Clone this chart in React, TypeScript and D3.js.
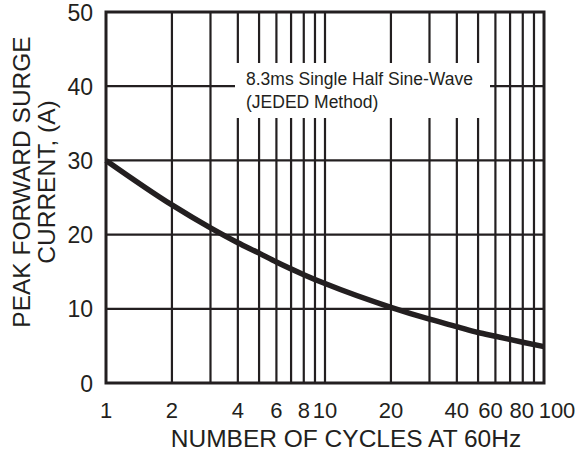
import React from "react";
import * as d3 from "d3";

const cycles = [1, 2, 3, 4, 5, 6, 8, 10, 20, 30, 40, 50, 60, 80, 100];
const current = [30, 24, 20.9, 18.9, 17.5, 16.3, 14.6, 13.4, 10.2, 8.6, 7.6, 6.8, 6.3, 5.5, 4.9];
const xGrid = [2, 3, 4, 5, 6, 7, 8, 9, 10, 20, 30, 40, 50, 60, 70, 80, 90];
const yGrid = [10, 20, 30, 40];
const xTicks = [1, 2, 4, 6, 8, 10, 20, 40, 60, 80, 100];
const yTicks = [0, 10, 20, 30, 40, 50];
const noteLines = ["8.3ms Single Half Sine-Wave", "(JEDED Method)"];
const yTitle = ["PEAK FORWARD SURGE", "CURRENT, (A)"];
const xTitle = "NUMBER OF CYCLES AT 60Hz";

const W = 579, H = 452;
const L = 106, R = 544, T = 12, B = 383;
const ink = "#231f20";
const font = "'Liberation Sans', Arial, sans-serif";

// crowded labels at the right end are nudged apart, as in the reference
const labelShift = (v: number) => (v === 60 ? -5 : v === 80 ? -1 : v === 100 ? 13 : 0);

export default function App() {
  const x = d3.scaleLog().domain([1, 100]).range([L, R]);
  const y = d3.scaleLinear().domain([0, 50]).range([B, T]);
  const pts = cycles.map((c, i) => [c, current[i]] as [number, number]);
  const line = d3
    .line<[number, number]>()
    .x((d) => x(d[0]))
    .y((d) => y(d[1]))
    .curve(d3.curveMonotoneX);

  return (
    <svg
      width={W}
      height={H}
      style={{ position: "absolute", left: 0, top: 0, background: "#fff" }}
    >
      <rect x={0} y={0} width={W} height={H} fill="#fff" />
      {xGrid.map((v) => (
        <line key={"gx" + v} x1={x(v)} x2={x(v)} y1={T} y2={B} stroke={ink} strokeWidth={2.2} />
      ))}
      {yGrid.map((v) => (
        <line key={"gy" + v} x1={L} x2={R} y1={y(v)} y2={y(v)} stroke={ink} strokeWidth={2.2} />
      ))}
      <rect x={235} y={63} width={255} height={55} fill="#fff" />
      {noteLines.map((t, i) => (
        <text key={t} x={246} y={85 + i * 23} fontFamily={font} fontSize={17.5} fill={ink}>
          {t}
        </text>
      ))}
      <path d={line(pts) || ""} fill="none" stroke={ink} strokeWidth={5.5} strokeLinecap="butt" />
      <rect x={L} y={T} width={R - L} height={B - T} fill="none" stroke={ink} strokeWidth={3} />
      {yTicks.map((v) => (
        <text
          key={"yt" + v}
          x={93}
          y={y(v) + 8.5}
          textAnchor="end"
          fontFamily={font}
          fontSize={23}
          fill={ink}
        >
          {v}
        </text>
      ))}
      {xTicks.map((v) => (
        <text
          key={"xt" + v}
          x={x(v) + labelShift(v)}
          y={418}
          textAnchor="middle"
          fontFamily={font}
          fontSize={22}
          fill={ink}
        >
          {v}
        </text>
      ))}
      <text x={346} y={447} textAnchor="middle" fontFamily={font} fontSize={24.5} fill={ink}>
        {xTitle}
      </text>
      {yTitle.map((t, i) => (
        <text
          key={t}
          transform={`translate(${30 + i * 25},${182}) rotate(-90)`}
          textAnchor="middle"
          fontFamily={font}
          fontSize={24.5}
          fill={ink}
        >
          {t}
        </text>
      ))}
    </svg>
  );
}
